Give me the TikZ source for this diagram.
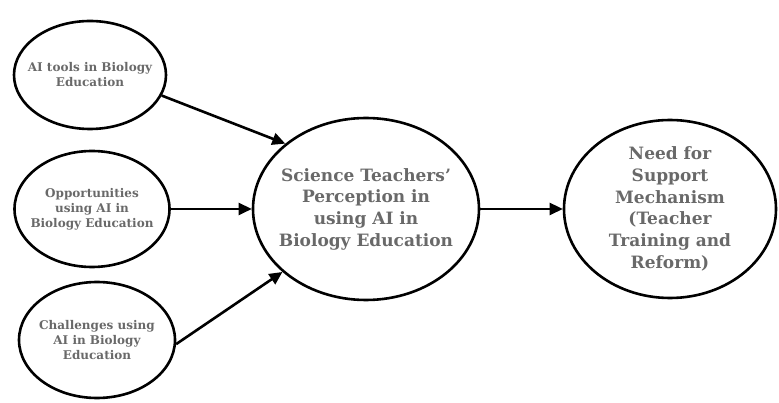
\documentclass[tikz,border=0pt]{standalone}
\usepackage{fontspec}
\setmainfont{DejaVu Serif}
\definecolor{txtgray}{RGB}{105,105,105}
\usetikzlibrary{shapes.geometric,arrows.meta}

\begin{document}
\begin{tikzpicture}[x=1pt,y=-1pt,
    bubble/.style={draw,ellipse,line width=2.6pt,inner sep=-18pt,align=center,text=txtgray},
    small/.style={bubble,minimum width=152pt,minimum height=108pt,font=\bfseries\fontsize{12}{15}\selectfont},
    big/.style={bubble,font=\bfseries\fontsize{17}{21.7}\selectfont},
    link/.style={line width=2.6pt,-{Triangle[length=13pt,width=12pt]}}
    ]
    \useasboundingbox (0,0) rectangle (779,403);

    % the three factors
    \node[small] (tools) at (90,75) {AI tools in Biology\\Education};
    \node[small,minimum width=155pt,minimum height=116pt] (opps) at (92,209) {Opportunities\\using AI in\\Biology Education};
    \node[small,minimum width=156pt,minimum height=116pt] (chal) at (97,340) {Challenges using\\AI in Biology\\Education};

    % perception and support
    \node[big,minimum width=226pt,minimum height=182pt] (percep) at (366,209) {Science Teachers'\\Perception in\\using AI in\\Biology Education};
    \node[big,minimum width=212pt,minimum height=178pt] (support) at (670,209) {Need for\\Support\\Mechanism\\(Teacher\\Training and\\Reform)};

    % the arrows
    \draw[link] (tools.-16) -- (percep.141);
    \draw[link] (opps.east) -- (percep.west);
    \draw[link] (chal.-3) -- (percep.217);
    \draw[link] (percep.east) -- (support.west);
\end{tikzpicture}
\end{document}
